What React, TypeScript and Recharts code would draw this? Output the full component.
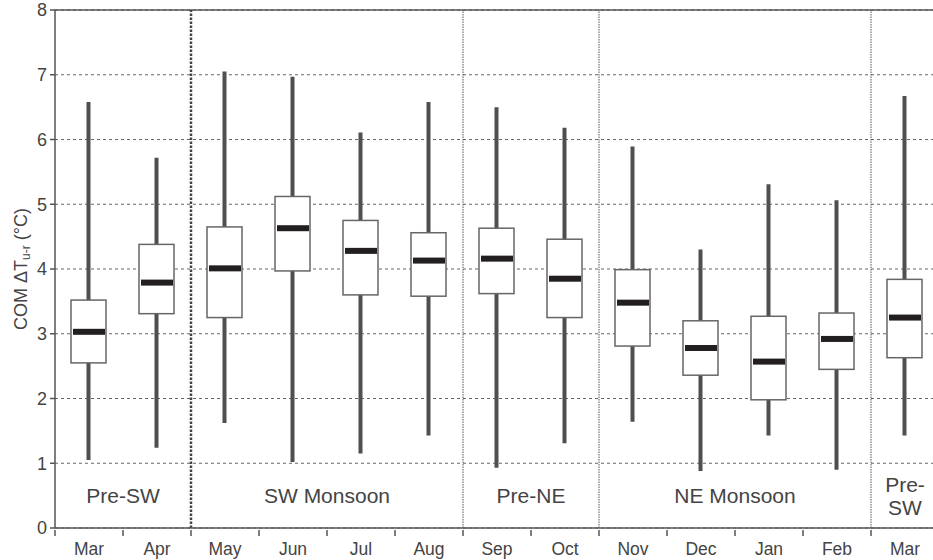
import React from 'react';
import { ComposedChart, Bar, XAxis, YAxis, CartesianGrid, ReferenceLine, ReferenceArea } from 'recharts';

const months = ['Mar', 'Apr', 'May', 'Jun', 'Jul', 'Aug', 'Sep', 'Oct', 'Nov', 'Dec', 'Jan', 'Feb', 'Mar'];
const whiskerLow = [1.05, 1.24, 1.62, 1.02, 1.15, 1.43, 0.93, 1.31, 1.64, 0.88, 1.43, 0.9, 1.43];
const quartile1 = [2.55, 3.31, 3.25, 3.97, 3.6, 3.58, 3.62, 3.25, 2.81, 2.36, 1.98, 2.45, 2.63];
const medians = [3.03, 3.79, 4.01, 4.63, 4.28, 4.13, 4.16, 3.85, 3.48, 2.78, 2.57, 2.92, 3.25];
const quartile3 = [3.52, 4.38, 4.65, 5.12, 4.75, 4.56, 4.63, 4.46, 3.99, 3.2, 3.27, 3.32, 3.84];
const whiskerHigh = [6.58, 5.72, 7.05, 6.97, 6.11, 6.58, 6.5, 6.18, 5.89, 4.3, 5.31, 5.06, 6.67];
const yTicks = [0, 1, 2, 3, 4, 5, 6, 7, 8];

const seasons = [
  { name: ['Pre-SW'], from: 0, to: 2 },
  { name: ['SW Monsoon'], from: 2, to: 6 },
  { name: ['Pre-NE'], from: 6, to: 8 },
  { name: ['NE Monsoon'], from: 8, to: 12 },
  { name: ['Pre-', 'SW'], from: 12, to: 13 },
];

const data = months.map((m, i) => ({
  pos: i + 0.5,
  month: m,
  min: whiskerLow[i],
  q1: quartile1[i],
  median: medians[i],
  q3: quartile3[i],
  max: whiskerHigh[i],
  range: [whiskerLow[i], whiskerHigh[i]],
}));

const xTicks: number[] = [];
for (let i = 0; i <= months.length * 2; i++) xTicks.push(i / 2);

const BoxShape = (props: any) => {
  const { x, y, width, height, payload } = props;
  const top = Math.min(y, y + height);
  const bot = Math.max(y, y + height);
  const px = (v: number) => bot - ((bot - top) * (v - payload.min)) / (payload.max - payload.min);
  const cx = x + width / 2;
  const yq3 = px(payload.q3);
  const yq1 = px(payload.q1);
  const ym = px(payload.median);
  return (
    <g>
      <line x1={cx} x2={cx} y1={top} y2={bot} stroke="#4f4f4f" strokeWidth={4} />
      <rect x={x} y={yq3} width={width} height={yq1 - yq3} fill="#fff" stroke="#666" strokeWidth={1.5} />
      <rect x={x + 2} y={ym - 3} width={width - 3} height={6} fill="#231f20" />
    </g>
  );
};

const XTick = (props: any) => {
  const { x, y, payload } = props;
  const v = payload.value;
  if (Number.isInteger(v)) {
    return <line x1={x} x2={x} y1={y} y2={y + 6} stroke="#555" strokeWidth={1.5} />;
  }
  return (
    <text x={x} y={y + 25} textAnchor="middle" fontSize={17.5} fill="#444" fontFamily="Liberation Sans, Arial, sans-serif">
      {months[Math.floor(v)]}
    </text>
  );
};

const SeasonLabel = (name: string[]) => (props: any) => {
  const { viewBox } = props;
  const cx = viewBox.x + viewBox.width / 2;
  const base = viewBox.y + viewBox.height;
  return (
    <text textAnchor="middle" fontSize={21} fill="#444" fontFamily="Liberation Sans, Arial, sans-serif">
      {name.length === 1 ? (
        <tspan x={cx} y={base - 25}>{name[0]}</tspan>
      ) : (
        name.map((n, i) => (
          <tspan key={i} x={cx} y={base - 36 + i * 23}>{n}</tspan>
        ))
      )}
    </text>
  );
};

const YLabel = () => (
  <text
    x={27}
    y={269}
    transform="rotate(-90, 27, 269)"
    textAnchor="middle"
    fontSize={18}
    fill="#444"
    fontFamily="Liberation Sans, Arial, sans-serif"
  >
    COM ΔT<tspan fontSize={12} dy={3}>u-r</tspan>
    <tspan dy={-3}> (°C)</tspan>
  </text>
);

export default function App() {
  return (
    <div style={{ position: 'absolute', left: 0, top: 0, width: 933, height: 560, overflow: 'hidden', background: '#fff' }}>
      <ComposedChart width={939} height={560} data={data} margin={{ top: 10, right: 0, bottom: 0, left: 0 }}>
        <CartesianGrid vertical={false} stroke="#666" strokeDasharray="3 3" strokeWidth={1} />
        <XAxis
          dataKey="pos"
          type="number"
          domain={[0, 13]}
          ticks={xTicks}
          interval={0}
          tickSize={0}
          tickLine={false}
          tick={<XTick />}
          height={32}
          axisLine={{ stroke: '#555', strokeWidth: 1.5 }}
        />
        <YAxis
          type="number"
          domain={[0, 8]}
          ticks={yTicks}
          interval={0}
          width={55}
          tickSize={5}
          tickMargin={3}
          tick={{ fontSize: 18, fill: '#444', fontFamily: 'Liberation Sans, Arial, sans-serif' }}
          tickLine={{ stroke: '#555', strokeWidth: 1.5 }}
          axisLine={{ stroke: '#555', strokeWidth: 1.5 }}
          label={<YLabel />}
        />
        <ReferenceLine y={8} stroke="#555" strokeWidth={1.5} />
        {seasons.map((s, i) => (
          <ReferenceArea key={i} x1={s.from} x2={s.to} fillOpacity={0} strokeOpacity={0} label={SeasonLabel(s.name)} />
        ))}
        <ReferenceLine x={2} stroke="#444" strokeWidth={2.5} strokeDasharray="2.5 1.5" />
        <ReferenceLine x={6} stroke="#555" strokeWidth={1} strokeDasharray="1.5 1" />
        <ReferenceLine x={8} stroke="#555" strokeWidth={1} strokeDasharray="1.5 1" />
        <ReferenceLine x={12} stroke="#555" strokeWidth={1} strokeDasharray="1.5 1" />
        <Bar dataKey="range" barSize={35} shape={<BoxShape />} isAnimationActive={false} />
      </ComposedChart>
    </div>
  );
}
